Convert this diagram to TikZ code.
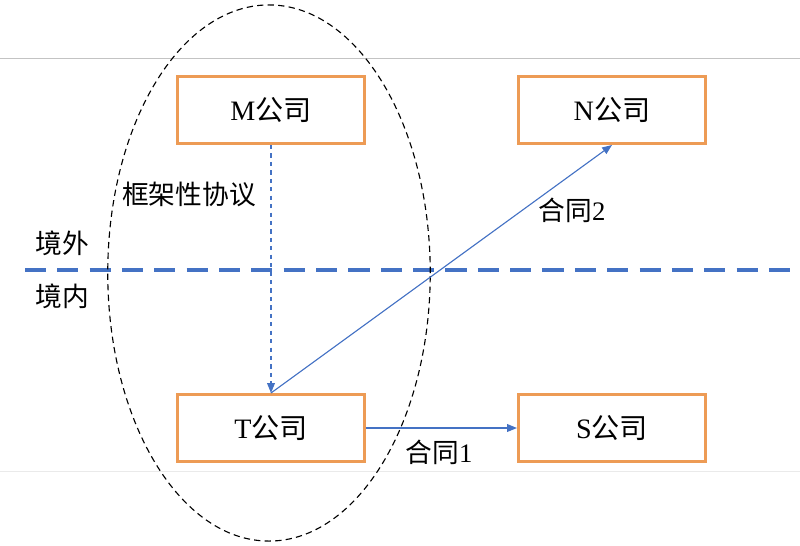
\documentclass[tikz,border=0pt]{standalone}
\usepackage{fontspec}
\setmainfont{Liberation Serif}
\newfontfamily\cjk{Noto Sans CJK SC}
\usetikzlibrary{arrows.meta}

\begin{document}
\begin{tikzpicture}[x=0.025cm, y=-0.025cm]
  % Colors
  \definecolor{boxcol}{RGB}{237,155,85}
  \definecolor{linecol}{RGB}{68,114,196}
  \definecolor{rulecol}{RGB}{195,195,195}
  \definecolor{faintcol}{RGB}{234,234,234}
  %
  \def\bw{4.68cm}
  \def\bh{1.68cm}
  %
  \tikzset{
    cbox/.style={draw=boxcol, line width=2pt, fill=white, minimum width=\bw, minimum height=\bh,
                 inner sep=0pt, font=\fontsize{20}{22}\selectfont},
    lbl/.style={inner sep=1pt, font=\fontsize{19}{21}\selectfont},
    conn/.style={draw=linecol, line width=0.8pt, -{Triangle[length=7pt,width=5.5pt]}},
  }
  %
  \useasboundingbox (0,0) rectangle (800,545);
  %
  % Thin page rules
  \draw[rulecol, line width=0.7pt] (0,58) -- (800,58);
  \draw[faintcol, line width=0.7pt] (0,471) -- (800,471);
  %
  % Border between outside and inside
  \draw[linecol, line width=2.8pt, dash pattern=on 15pt off 8pt] (25,270) -- (790,270);
  \node[lbl] (outside) at (62,243) {\cjk 境外};
  \node[lbl] (inside) at (62,296) {\cjk 境内};
  %
  % Companies
  \node[cbox] (M) at (271,110) {M{\cjk 公司}};
  \node[cbox] (N) at (612,110) {N{\cjk 公司}};
  \node[cbox] (T) at (271,428) {T{\cjk 公司}};
  \node[cbox] (S) at (612,428) {S{\cjk 公司}};
  %
  % Group round M and T
  \draw[black, line width=0.8pt, dash pattern=on 4.5pt off 3pt] (269,273) ellipse [x radius=4.03cm, y radius=6.7cm];
  %
  % Contracts
  \draw[conn, dashed] (M) -- (T);
  \node[lbl] (frame) at (189,194) {\cjk 框架性协议};
  \draw[conn] (T.north) -- (N.south);
  \node[lbl] (c2) at (572,210) {{\cjk 合同}2};
  \draw[conn] (T) -- (S);
  \node[lbl] (c1) at (439,452) {{\cjk 合同}1};
\end{tikzpicture}
\end{document}
